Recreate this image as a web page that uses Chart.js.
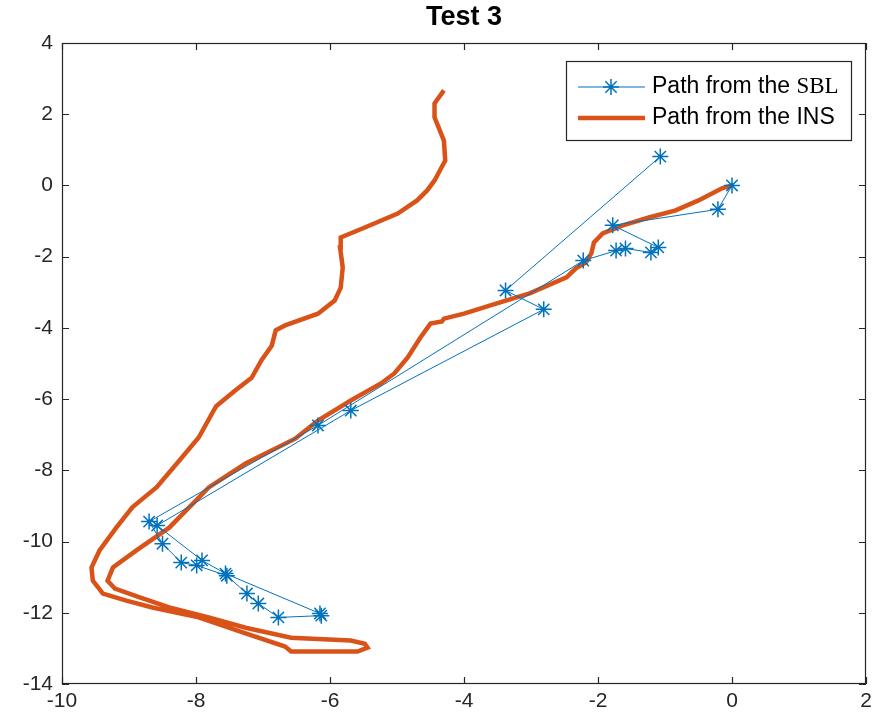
<!DOCTYPE html>
<html>
<head>
<meta charset="utf-8">
<title>Test 3</title>
<script src="https://cdn.jsdelivr.net/npm/chart.js@4.4.1/dist/chart.umd.min.js"></script>
<style>
  html, body { margin: 0; padding: 0; background: #fff; }
  #wrap { width: 879px; height: 726px; }
</style>
</head>
<body>
<div id="wrap"><canvas id="myChart"></canvas></div>
<script>
// SBL fixes, in the order they were received
const sblX = [0, -0.21, -1.78, -1.10, -1.21, -1.59, -1.73, -2.22, -6.18, -8.70, -8.50, -8.22, -7.99, -7.54,
              -7.24, -7.07, -6.77, -6.13, -6.15, -7.56, -7.91, -8.58, -5.69, -2.81, -3.38, -1.07];
const sblY = [0, -0.67, -1.12, -1.74, -1.88, -1.77, -1.83, -2.11, -6.74, -9.44, -10.06, -10.59, -10.67, -10.96,
              -11.46, -11.74, -12.13, -12.08, -12.02, -10.90, -10.53, -9.55, -6.32, -3.48, -2.95, 0.81];

// INS track: out from the origin, round the far turn and back up
const insX = [0, -0.15, -0.50, -0.84, -1.24, -1.63, -1.93, -2.06, -2.10, -2.18, -2.33, -2.47, -3.02, -3.51,
              -4.00, -4.30, -4.33, -4.50, -4.65, -4.84, -5.04, -5.24, -5.69, -6.18, -6.52, -7.26, -7.81,
              -8.40, -8.89, -9.24, -9.32, -9.21, -8.84, -8.40, -7.81, -7.26, -6.58, -5.69, -5.48, -5.44,
              -5.59, -6.58, -6.67, -7.26, -7.96, -8.65, -9.04, -9.39, -9.54, -9.56, -9.44, -9.19, -8.95,
              -8.74, -8.59, -8.21, -7.96, -7.70, -7.41, -7.17, -7.02, -6.87, -6.81, -6.67, -6.18, -5.93,
              -5.84, -5.81, -5.85, -5.84, -5.48, -4.99, -4.70, -4.55, -4.44, -4.36, -4.28, -4.30, -4.36,
              -4.44, -4.44, -4.30];
const insY = [0, -0.08, -0.42, -0.70, -0.90, -1.12, -1.35, -1.60, -1.91, -2.16, -2.33, -2.58, -3.03, -3.31,
              -3.60, -3.74, -3.82, -3.88, -4.27, -4.83, -5.28, -5.56, -6.04, -6.60, -7.11, -7.81, -8.48,
              -9.61, -10.25, -10.73, -11.10, -11.32, -11.57, -11.85, -12.13, -12.42, -12.70, -12.78, -12.87, -12.98,
              -13.09, -13.09, -12.95, -12.58, -12.13, -11.85, -11.66, -11.46, -11.10, -10.73, -10.25, -9.61, -9.04,
              -8.71, -8.48, -7.64, -7.08, -6.20, -5.75, -5.40, -4.90, -4.50, -4.07, -3.93, -3.60, -3.23,
              -2.87, -2.30, -1.74, -1.46, -1.18, -0.79, -0.42, -0.14, 0.14, 0.42, 0.70, 1.26, 1.54,
              1.91, 2.30, 2.67];

const xTicks = [-10, -8, -6, -4, -2, 0, 2];
const yTicks = [-14, -12, -10, -8, -6, -4, -2, 0, 2, 4];
const titleText = 'Test 3';

const blue = '#0072BD';
const orange = '#D95319';
const axisColor = '#262626';
const tickFont = { family: 'Liberation Sans, Arial, sans-serif', size: 21 };

function toPoints(xs, ys) {
  return xs.map(function (x, i) { return { x: x, y: ys[i] }; });
}

// MATLAB style box: frame on all four sides with inward ticks, title centred over the axes
const boxAxes = {
  id: 'boxAxes',
  afterDraw: function (chart) {
    const c = chart.ctx, a = chart.chartArea;
    const sx = chart.scales.x, sy = chart.scales.y;
    c.save();
    c.strokeStyle = axisColor;
    c.lineWidth = 1.2;
    c.strokeRect(a.left + 0.5, a.top + 0.5, a.right - a.left - 1, a.bottom - a.top - 1);
    c.beginPath();
    xTicks.forEach(function (v) {
      const px = Math.round(sx.getPixelForValue(v)) + 0.5;
      c.moveTo(px, a.bottom); c.lineTo(px, a.bottom - 7);
      c.moveTo(px, a.top); c.lineTo(px, a.top + 7);
    });
    yTicks.forEach(function (v) {
      const py = Math.round(sy.getPixelForValue(v)) + 0.5;
      c.moveTo(a.left, py); c.lineTo(a.left + 7, py);
      c.moveTo(a.right, py); c.lineTo(a.right - 7, py);
    });
    c.stroke();

    c.fillStyle = '#000';
    c.font = 'bold 27px "Liberation Sans", Arial, sans-serif';
    c.textAlign = 'center';
    c.textBaseline = 'middle';
    c.fillText(titleText, (a.left + a.right) / 2, 18);
    c.restore();
  }
};

function drawStar(c, x, y, r) {
  c.beginPath();
  for (let k = 0; k < 4; k++) {
    const t = k * Math.PI / 4;
    c.moveTo(x - r * Math.cos(t), y - r * Math.sin(t));
    c.lineTo(x + r * Math.cos(t), y + r * Math.sin(t));
  }
  c.stroke();
}

// legend box in the top right corner
const boxLegend = {
  id: 'boxLegend',
  afterDraw: function (chart) {
    const c = chart.ctx;
    const ds = chart.data.datasets;
    const left = 566, top = 61, w = 285, h = 79;
    c.save();
    c.fillStyle = '#fff';
    c.fillRect(left, top, w, h);
    c.strokeStyle = axisColor;
    c.lineWidth = 1.2;
    c.strokeRect(left + 0.5, top + 0.5, w, h);

    const rows = [top + 26, top + 57];
    // SBL row
    c.strokeStyle = blue;
    c.lineWidth = 1;
    c.beginPath(); c.moveTo(578, rows[0]); c.lineTo(645, rows[0]); c.stroke();
    c.lineWidth = 1.5;
    drawStar(c, 611, rows[0], 8);
    // INS row
    c.strokeStyle = orange;
    c.lineWidth = 4.5;
    c.beginPath(); c.moveTo(578, rows[1]); c.lineTo(645, rows[1]); c.stroke();

    c.fillStyle = '#000';
    c.textBaseline = 'middle';
    ds.forEach(function (d, i) {
      const parts = d.label.split(' ');
      const last = parts.pop();
      const head = parts.join(' ') + ' ';
      c.font = '23px "Liberation Sans", Arial, sans-serif';
      c.fillText(head, 652, rows[i]);
      const hw = c.measureText(head).width;
      // the SBL tag is set in a serif face
      if (last === 'SBL') c.font = '23px "Liberation Serif", "Times New Roman", serif';
      c.fillText(last, 652 + hw, rows[i]);
    });
    c.restore();
  }
};

var ctx = document.getElementById('myChart').getContext('2d');
const chart = new Chart(ctx, {
  type: 'scatter',
  data: {
    datasets: [{
      label: 'Path from the SBL',
      data: toPoints(sblX, sblY),
      showLine: true,
      borderColor: blue,
      borderWidth: 1,
      pointStyle: 'star',
      pointRadius: 8,
      pointBorderWidth: 1.5,
      pointBorderColor: blue,
      pointBackgroundColor: blue,
      order: 0
    }, {
      label: 'Path from the INS',
      data: toPoints(insX, insY),
      showLine: true,
      borderColor: orange,
      borderWidth: 4.5,
      pointRadius: 0,
      tension: 0,
      order: 1
    }]
  },
  options: {
    responsive: true,
    maintainAspectRatio: false,
    animation: false,
    layout: { padding: { left: 0, right: 13, top: 43, bottom: 0 } },
    plugins: {
      legend: { display: false },
      tooltip: { enabled: false },
      title: { display: false }
    },
    scales: {
      x: {
        type: 'linear',
        min: -10, max: 2,
        afterBuildTicks: function (s) { s.ticks = xTicks.map(function (v) { return { value: v }; }); },
        afterFit: function (s) { s.height = 42; },
        grid: { display: false, drawTicks: false },
        border: { display: false },
        ticks: { color: axisColor, font: tickFont, padding: 5, maxRotation: 0 }
      },
      y: {
        type: 'linear',
        min: -14, max: 4,
        afterBuildTicks: function (s) { s.ticks = yTicks.map(function (v) { return { value: v }; }); },
        afterFit: function (s) { s.width = 62; },
        grid: { display: false, drawTicks: false },
        border: { display: false },
        ticks: { color: axisColor, font: tickFont, padding: 9 }
      }
    }
  },
  plugins: [boxAxes, boxLegend]
});
</script>
</body>
</html>
